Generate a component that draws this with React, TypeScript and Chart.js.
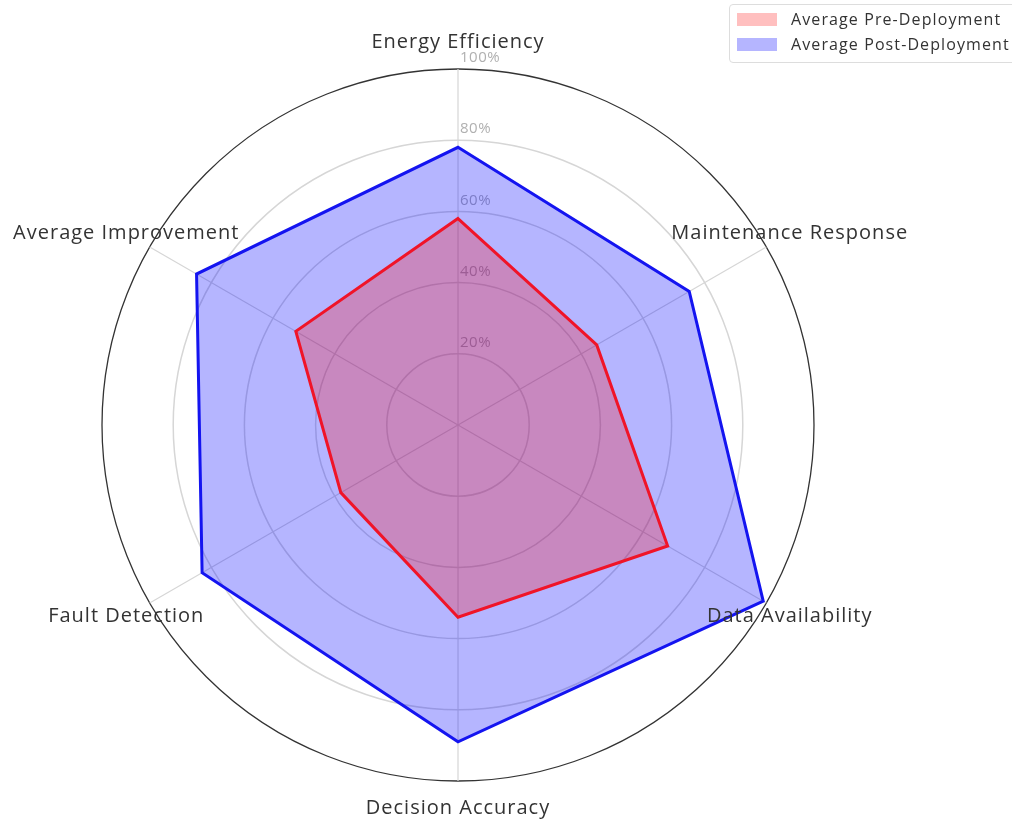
import React, { useEffect, useRef } from 'react';
import { Chart, registerables } from 'chart.js';

Chart.register(...registerables);

const categories = [
  'Energy Efficiency',
  'Maintenance Response',
  'Data Availability',
  'Decision Accuracy',
  'Fault Detection',
  'Average Improvement',
];
const preDeployment = [58, 45, 68, 54, 38, 52.6];
const postDeployment = [78, 75, 99, 89, 83, 84.8];
const tickValues = [20, 40, 60, 80, 100];
const seriesNames = ['Average Pre-Deployment', 'Average Post-Deployment'];
const seriesLines = ['rgb(240,20,40)', 'rgb(20,20,240)'];
const seriesFills = ['rgba(255,0,0,0.25)', 'rgba(0,0,255,0.29)'];

const FONT = '"Open Sans", sans-serif';

const labelPlugin = {
  id: 'customLabels',
  beforeDatasetsDraw(chart: any) {
    const scale = chart.scales.r;
    const ctx = chart.ctx;
    ctx.save();
    ctx.font = `15px ${FONT}`;
    (ctx as any).letterSpacing = '0.5px';
    ctx.fillStyle = '#b0b0b0';
    ctx.textAlign = 'left';
    ctx.textBaseline = 'middle';
    tickValues.forEach((v) => {
      const d = scale.getDistanceFromCenterForValue(v);
      ctx.fillText(`${v}%`, scale.xCenter + 2, scale.yCenter - d - 11);
    });
    ctx.restore();
  },
  afterDraw(chart: any) {
    const scale = chart.scales.r;
    const ctx = chart.ctx;
    ctx.save();
    ctx.font = `20px ${FONT}`;
    (ctx as any).letterSpacing = '1px';
    ctx.fillStyle = '#333333';
    ctx.textAlign = 'center';
    ctx.textBaseline = 'middle';
    (chart.data.labels as string[]).forEach((l, i) => {
      const p = scale.getPointPosition(i, scale.drawingArea * 1.076);
      ctx.fillText(l, p.x, p.y);
    });
    ctx.restore();
  },
};

function RadarChart() {
  const ref = useRef<HTMLCanvasElement | null>(null);
  useEffect(() => {
    if (!ref.current) return;
    const chart = new Chart(ref.current, {
      type: 'radar',
      data: {
        labels: categories,
        datasets: [
          {
            label: seriesNames[0],
            data: preDeployment,
            borderColor: seriesLines[0],
            backgroundColor: seriesFills[0],
            borderWidth: 3,
            pointRadius: 0,
            fill: true,
          },
          {
            label: seriesNames[1],
            data: postDeployment,
            borderColor: seriesLines[1],
            backgroundColor: seriesFills[1],
            borderWidth: 3,
            pointRadius: 0,
            fill: true,
          },
        ],
      },
      options: {
        animation: false,
        responsive: true,
        maintainAspectRatio: false,
        layout: { padding: { left: 102, right: 198, top: 69, bottom: 40 } },
        plugins: { legend: { display: false }, tooltip: { enabled: false } },
        elements: { line: { tension: 0 } },
        scales: {
          r: {
            min: 0,
            max: 100,
            ticks: { stepSize: 20, display: false },
            pointLabels: { display: false },
            grid: {
              circular: true,
              color: (c: any) => (c.tick && c.tick.value === 100 ? '#333333' : '#d6d6d6'),
              lineWidth: (c: any) => (c.tick && c.tick.value === 100 ? 1.3 : 1.5),
            },
            angleLines: { color: '#d6d6d6', lineWidth: 1.2 },
          },
        },
      },
      plugins: [labelPlugin],
    });
    return () => chart.destroy();
  }, []);
  return <canvas ref={ref} />;
}

export default function App() {
  return (
    <div
      style={{
        position: 'fixed',
        left: 0,
        top: 0,
        width: 1012,
        height: 821,
        overflow: 'hidden',
        background: '#fff',
      }}
    >
      <div style={{ position: 'absolute', left: 0, top: 0, width: 1012, height: 821 }}>
        <RadarChart />
      </div>
      <div
        style={{
          position: 'absolute',
          left: 729,
          top: 4,
          width: 300,
          height: 57,
          border: '1px solid #dddddd',
          borderRadius: 4,
          background: 'rgba(255,255,255,0.8)',
          fontFamily: FONT,
          fontSize: 16,
          letterSpacing: '1.1px',
          color: '#333',
        }}
      >
        {seriesNames.map((n, i) => (
          <div
            key={n}
            style={{
              position: 'absolute',
              left: 7,
              top: 2 + i * 25,
              height: 24,
              display: 'flex',
              alignItems: 'center',
              whiteSpace: 'nowrap',
            }}
          >
            <span
              style={{
                display: 'inline-block',
                width: 40,
                height: 13,
                background: seriesFills[i],
                marginRight: 14,
              }}
            />
            <span>{n}</span>
          </div>
        ))}
      </div>
    </div>
  );
}
